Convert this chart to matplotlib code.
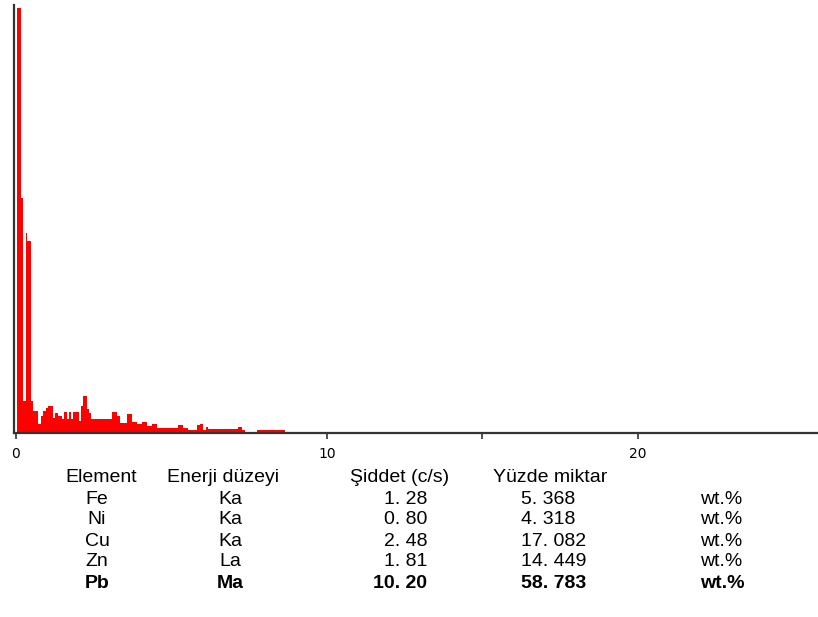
import numpy as np
import matplotlib.pyplot as plt

edges = [0.04, 0.15, 0.23, 0.32, 0.35, 0.47, 0.56, 0.72, 0.80, 0.87, 0.96, 1.03,
         1.19, 1.25, 1.35, 1.48, 1.54, 1.64, 1.70, 1.77, 1.83, 2.03, 2.09, 2.15,
         2.27, 2.35, 2.41, 3.08, 3.24, 3.34, 3.56, 3.72, 3.88, 4.04, 4.20, 4.36,
         4.54, 5.22, 5.38, 5.54, 5.81, 5.92, 6.02, 6.11, 6.18, 7.15, 7.26, 7.36,
         7.74, 8.65]
counts = [425, 235, 32, 200, 192, 32, 22, 9, 17, 22, 25, 27, 15, 20, 17, 14, 21,
          14, 21, 14, 21, 12, 27, 37, 24, 20, 14, 21, 17, 10, 19, 11, 9, 11, 7, 9,
          5, 8, 5, 3, 8, 9, 3, 6, 4, 6, 3, 0, 3]

xticks = [0, 10, 15, 20]
xticklabels = ['0', '10', '', '20']

# result table
headers = ['Element', 'Enerji düzeyi', 'Şiddet (c/s)', 'Yüzde miktar']
elements = ['Fe', 'Ni', 'Cu', 'Zn', 'Pb']
levels = ['Ka', 'Ka', 'Ka', 'La', 'Ma']
intensity = ['1. 28', '0. 80', '2. 48', '1. 81', '10. 20']
percent = ['5. 368', '4. 318', '17. 082', '14. 449', '58. 783']
unit = 'wt.%'

W, H = 818, 617
fig = plt.figure(figsize=(W / 100, H / 100), dpi=100)
ax = fig.add_axes([14 / W, (H - 433) / H, 1 - 14 / W, 428 / H])

ax.stairs(counts, edges, fill=True, color='#ff0000', linewidth=0)
ax.set_xlim(-0.064, 25.79)
ax.set_ylim(0, 428)

for s in ['top', 'right']:
    ax.spines[s].set_visible(False)
for s in ['left', 'bottom']:
    ax.spines[s].set_color('#333333')
    ax.spines[s].set_linewidth(1.6)

ax.set_yticks([])
ax.set_xticks(xticks)
ax.set_xticklabels(xticklabels)
ax.tick_params(axis='x', direction='out', length=4, width=1.2, color='#333333',
               labelsize=10, pad=6)


def fx(px):
    return px / W


def fy(py):
    return 1 - py / H


font = dict(family='Liberation Sans', fontsize=14, va='center')

# header row
fig.text(fx(101), fy(478), headers[0], ha='center', **font)
fig.text(fx(223), fy(478), headers[1], ha='center', **font)
fig.text(fx(400), fy(478), headers[2], ha='center', **font)
fig.text(fx(550), fy(478), headers[3], ha='center', **font)

row_y = [499, 520, 541, 562, 583]
for i in range(len(elements)):
    w = 'bold' if elements[i] == 'Pb' else 'normal'
    y = fy(row_y[i])
    fig.text(fx(97), y, elements[i], ha='center', fontweight=w, **font)
    fig.text(fx(230), y, levels[i], ha='center', fontweight=w, **font)
    fig.text(fx(427), y, intensity[i], ha='right', fontweight=w, **font)
    fig.text(fx(521), y, percent[i], ha='left', fontweight=w, **font)
    fig.text(fx(700), y, unit, ha='left', fontweight=w, **font)

fig.savefig('out.png', dpi=100)
